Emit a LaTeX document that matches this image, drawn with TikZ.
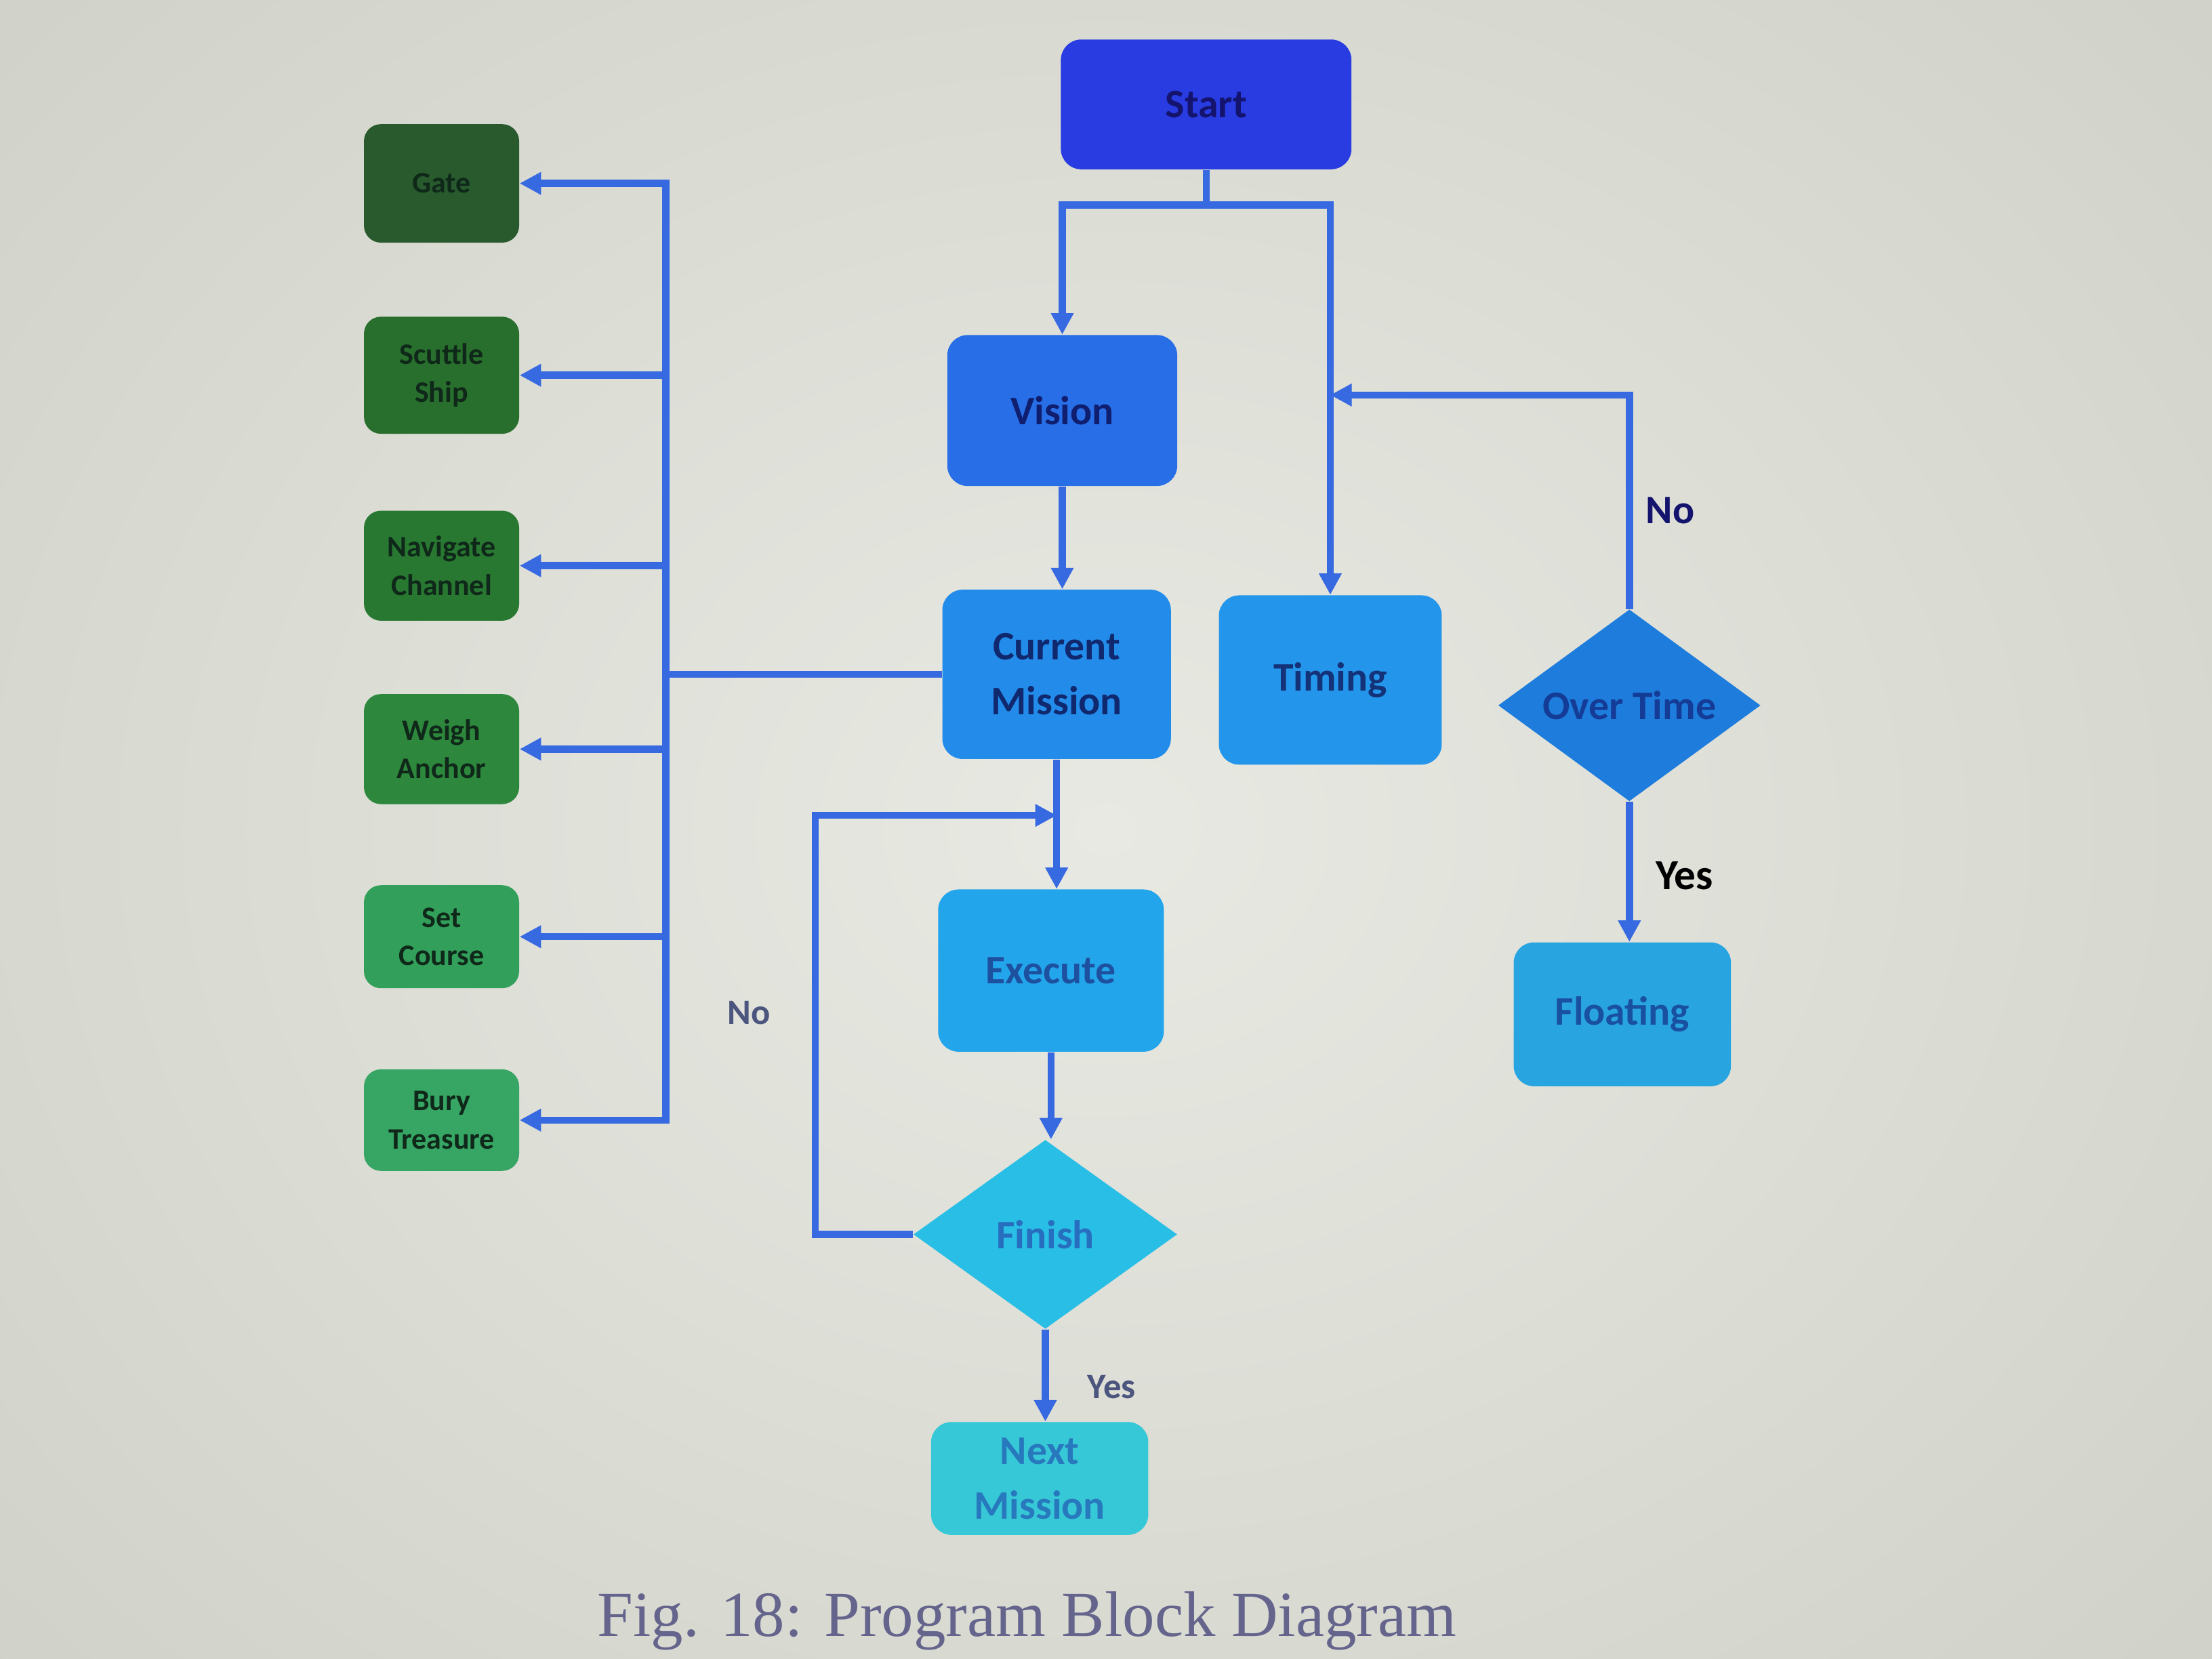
\documentclass[tikz,border=0pt]{standalone}
\usepackage{fontspec}
\setmainfont{Carlito}
\newfontfamily\capfont{Liberation Serif}
\usetikzlibrary{arrows.meta,shapes.geometric}
\definecolor{bgin}{RGB}{232,233,226}
\definecolor{bgout}{RGB}{208,209,200}
\definecolor{lineblue}{RGB}{55,105,225}
\definecolor{cstart}{RGB}{40,60,225}
\definecolor{tstart}{RGB}{20,20,110}
\definecolor{cvision}{RGB}{40,110,230}
\definecolor{tvision}{RGB}{15,30,110}
\definecolor{ccur}{RGB}{35,140,235}
\definecolor{tcur}{RGB}{15,40,110}
\definecolor{ctim}{RGB}{35,150,235}
\definecolor{ttim}{RGB}{20,50,120}
\definecolor{cover}{RGB}{30,125,220}
\definecolor{tover}{RGB}{20,60,150}
\definecolor{cfloat}{RGB}{40,165,225}
\definecolor{tfloat}{RGB}{25,80,160}
\definecolor{cexec}{RGB}{35,165,235}
\definecolor{texec}{RGB}{30,80,160}
\definecolor{cfin}{RGB}{40,190,230}
\definecolor{tfin}{RGB}{40,110,190}
\definecolor{cnext}{RGB}{55,200,215}
\definecolor{tnext}{RGB}{40,120,190}
\definecolor{gA}{RGB}{40,90,45}
\definecolor{gB}{RGB}{40,110,45}
\definecolor{gC}{RGB}{40,120,50}
\definecolor{gD}{RGB}{45,135,60}
\definecolor{gE}{RGB}{50,160,90}
\definecolor{gF}{RGB}{55,165,100}
\definecolor{gtext}{RGB}{15,40,25}
\definecolor{lblgray}{RGB}{75,85,125}
\definecolor{capcol}{RGB}{100,100,140}
\def\u{0.020816cm}
\begin{document}
\begin{tikzpicture}[x=0.020816cm,y=-0.020816cm,
  box/.style={rectangle,rounded corners=0.3cm,draw=none,align=center,font=\fontsize{17}{23}\selectfont\bfseries,inner sep=2pt},
  dia/.style={diamond,draw=none,align=center,inner sep=0pt,aspect=1.4,font=\fontsize{17}{23}\selectfont\bfseries},
  gbox/.style={rectangle,rounded corners=0.25cm,draw=none,align=center,minimum width=110*\u,font=\fontsize{12.5}{16}\selectfont\bfseries,text=gtext,inner sep=1pt},
  line/.style={draw=lineblue,line width=3pt},
  arr/.style={draw=lineblue,line width=3pt,-{Triangle[length=9pt,width=9pt]}},
  lbl/.style={font=\fontsize{17}{20}\selectfont\bfseries}
]
\useasboundingbox (0,0) rectangle (1568,1176);
\shade[inner color=bgin,outer color=bgout] (-300,-300) rectangle (1868,1476);

% main nodes
\node[box,fill=cstart,text=tstart,minimum width=206*\u,minimum height=92*\u] (start) at (855,74) {Start};
\node[box,fill=cvision,text=tvision,minimum width=163*\u,minimum height=107*\u] (vision) at (753,291) {Vision};
\node[box,fill=ccur,text=tcur,minimum width=162*\u,minimum height=120*\u] (current) at (749,478) {Current\\Mission};
\node[box,fill=ctim,text=ttim,minimum width=158*\u,minimum height=120*\u] (timing) at (943,482) {Timing};
\node[dia,fill=cover,text=tover,minimum width=186*\u,minimum height=136*\u] (over) at (1155,500) {Over Time};
\node[box,fill=cfloat,text=tfloat,minimum width=154*\u,minimum height=102*\u] (floating) at (1150,719) {Floating};
\node[box,fill=cexec,text=texec,minimum width=160*\u,minimum height=115*\u] (execute) at (745,688) {Execute};
\node[dia,fill=cfin,text=tfin,minimum width=187*\u,minimum height=134*\u] (finish) at (741,875) {Finish};
\node[box,fill=cnext,text=tnext,minimum width=154*\u,minimum height=80*\u] (next) at (737,1048) {Next\\Mission};

% green task nodes
\node[gbox,fill=gA,minimum height=84*\u] (g1) at (313,130) {Gate};
\node[gbox,fill=gB,minimum height=83*\u] (g2) at (313,266) {Scuttle\\Ship};
\node[gbox,fill=gC,minimum height=78*\u] (g3) at (313,401) {Navigate\\Channel};
\node[gbox,fill=gD,minimum height=78*\u] (g4) at (313,531) {Weigh\\Anchor};
\node[gbox,fill=gE,minimum height=73*\u] (g5) at (313,664) {Set\\Course};
\node[gbox,fill=gF,minimum height=72*\u] (g6) at (313,794) {Bury\\Treasure};

% connectors from start
\draw[line] (start.south) -- ++(0,25) coordinate (sj);
\draw[arr] (sj) -| (vision.north);
\draw[arr] (sj) -| (timing.north);
\draw[arr] (vision.south) -- (vision.south |- current.north);
\draw[arr] (current.south) -- (current.south |- execute.north);
\draw[arr] (execute.south) -- (execute.south |- finish.north);
\draw[arr] (finish.south) -- (finish.south |- next.north);

% finish loop back
\coordinate (lp) at (578,578);
\draw[arr] (finish.west) -| (lp) -- (lp -| current.south);
\node[lbl,text=lblgray,font=\fontsize{15}{18}\selectfont\bfseries] (nolbl) at (531,718) {No};
\node[lbl,text=lblgray,font=\fontsize{15}{18}\selectfont\bfseries] (yeslbl) at (788,983) {Yes};

% over time
\coordinate (ot) at (1160,280);
\draw[arr] (over.north) -- (over.north |- ot) -- (ot -| timing.north);
\draw[arr] (over.south) -- (over.south |- floating.north);
\node[lbl,text=tstart] (no2) at (1184,362) {No};
\node[lbl,text=black,font=\fontsize{18}{20}\selectfont\bfseries] (yes2) at (1194,621) {Yes};

% bus to tasks
\coordinate (bus) at (472,470);
\draw[line] (current.west) -- (current.west -| bus);
\draw[line] ([yshift=1.5pt]g1.east -| bus) -- ([yshift=-1.5pt]g6.east -| bus);
\foreach \g in {g1,g2,g3,g4,g5,g6}{
  \draw[arr] (\g.east -| bus) -- (\g.east);
}

% caption
\node[anchor=base,text=capcol,font=\capfont\fontsize{27}{30}\selectfont] (cap) at (728,1160) {Fig. 18: Program Block Diagram};
\end{tikzpicture}
\end{document}
